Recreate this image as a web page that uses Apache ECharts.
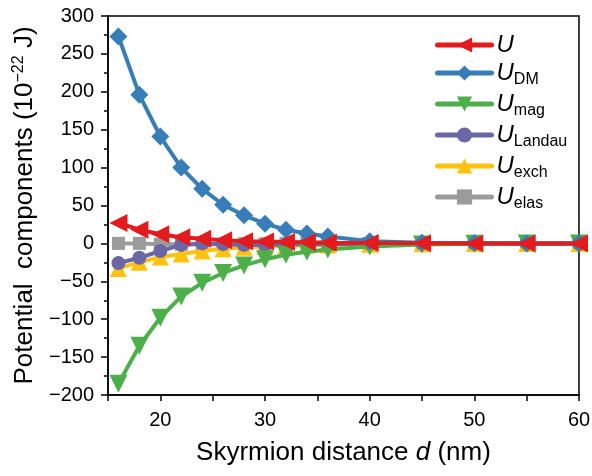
<!DOCTYPE html>
<html>
<head>
<meta charset="utf-8">
<script src="https://cdn.jsdelivr.net/npm/echarts@6/dist/echarts.min.js"></script>
<style>html,body{margin:0;padding:0;background:#fff}#c{width:592px;height:476px}</style>
</head>
<body>
<div id="c"></div>
<script>
const distances = [16, 18, 20, 22, 24, 26, 28, 30, 32, 34, 36, 40, 45, 50, 55, 60];
const U_total  = [27, 18, 12, 8, 6, 4, 3, 2.5, 2, 1.5, 1, 0.5, 0.3, 0, 0, 0];
const U_DM     = [273, 196, 141, 100, 72, 51, 37, 26, 18, 13, 9, 3, 1, 0.5, 0, 0];
const U_mag    = [-185, -135, -98, -70, -52, -39, -29, -21, -15, -11, -8, -4, -1.5, -0.5, 0, 0];
const U_Landau = [-26, -19, -10, -2, 0, -1, -2, -2, -1.5, -1, -1, -0.5, 0, 0, 0, 0];
const U_exch   = [-33, -25, -18, -14, -10, -7, -5, -4, -3, -2, -2, -1, -0.5, 0, 0, 0];
const U_elas   = [0, 0, -1, -1, -1, -1, -0.5, -0.5, 0, 0, 0, 0, 0, 0, 0, 0];
const seriesNames = ['U', 'UDM', 'Umag', 'ULandau', 'Uexch', 'Uelas'];
const seriesSubs  = ['', 'DM', 'mag', 'Landau', 'exch', 'elas'];
const yTicks = [-200, -150, -100, -50, 0, 50, 100, 150, 200, 250, 300];
const xTicks = [20, 30, 40, 50, 60];

const colors = ['#e41a1c', '#377eb8', '#4daf4a', '#6b67a6', '#ffc20e', '#9b9b9b'];
const symbols = ['triangle', 'diamond', 'triangle', 'circle', 'triangle', 'rect'];
const rotates = [90, 0, 180, 0, 0, 0];
const sizes = [18, 18, 18, 14, 17, 13];
const zs = [6, 5, 4, 3, 2, 1];
const values = [U_total, U_DM, U_mag, U_Landau, U_exch, U_elas];
const FONT = 'Liberation Sans, Arial, sans-serif';

const series = seriesNames.map((n, i) => ({
  name: n,
  type: 'line',
  data: distances.map((d, k) => [d, values[i][k]]),
  symbol: symbols[i],
  symbolSize: sizes[i],
  symbolRotate: rotates[i],
  z: zs[i],
  lineStyle: { color: colors[i], width: 4 },
  itemStyle: { color: colors[i] },
  emphasis: { disabled: true }
}));

const chart = echarts.init(document.getElementById('c'), null, { renderer: 'canvas' });
chart.setOption({
  animation: false,
  backgroundColor: '#fff',
  grid: { left: 108, right: 13, top: 16, bottom: 81, show: true, borderColor: '#000', borderWidth: 1.5, outerBoundsMode: 'none', containLabel: false },
  legend: {
    data: seriesNames,
    orient: 'vertical',
    left: 430,
    top: 28,
    itemWidth: 54,
    itemHeight: 19,
    itemGap: 1,
    lineStyle: { width: 5, cap: 'round' },
    formatter: function (name) {
      const i = seriesNames.indexOf(name);
      return seriesSubs[i] ? '{u|U}{s|' + seriesSubs[i] + '}' : '{u|U}';
    },
    textStyle: {
      fontFamily: FONT,
      rich: {
        u: { fontSize: 24, fontStyle: 'italic', color: '#000', fontFamily: FONT, lineHeight: 26 },
        s: { fontSize: 16, color: '#000', fontFamily: FONT, padding: [14, 0, 0, 0], lineHeight: 26 }
      }
    }
  },
  xAxis: {
    type: 'value',
    min: 15, max: 60, interval: 5,
    name: '{a|Skyrmion distance }{i|d}{a| (nm)}',
    nameLocation: 'middle',
    nameGap: 45,
    nameTextStyle: {
      rich: {
        a: { fontSize: 26, fontFamily: FONT, color: '#000' },
        i: { fontSize: 26, fontFamily: FONT, color: '#000', fontStyle: 'italic' }
      }
    },
    axisLine: { onZero: false, lineStyle: { color: '#000', width: 1.5 } },
    axisTick: { show: true, length: 6, lineStyle: { color: '#000', width: 1.5 } },
    splitLine: { show: false },
    axisLabel: {
      fontSize: 20, fontFamily: FONT, color: '#000', margin: 15,
      formatter: v => (xTicks.indexOf(v) >= 0 ? String(v) : '')
    }
  },
  yAxis: {
    type: 'value',
    min: -200, max: 300, interval: 50,
    name: '{a|Potential  components (10}{s|−22}{a| J)}',
    nameLocation: 'middle',
    nameGap: 59,
    nameTextStyle: {
      rich: {
        a: { fontSize: 26, fontFamily: FONT, color: '#000' },
        s: { fontSize: 16, fontFamily: FONT, color: '#000', padding: [0, 0, 12, 0] }
      }
    },
    axisLine: { onZero: false, lineStyle: { color: '#000', width: 1.5 } },
    axisTick: { show: true, length: 7, lineStyle: { color: '#000', width: 1.5 } },
    minorTick: { show: true, splitNumber: 2, length: 4, lineStyle: { color: '#000', width: 1.5 } },
    splitLine: { show: false },
    minorSplitLine: { show: false },
    axisLabel: {
      fontSize: 20, fontFamily: FONT, color: '#000', margin: 14,
      formatter: v => (yTicks.indexOf(v) >= 0 ? (v < 0 ? '−' + Math.abs(v) : String(v)) : '')
    }
  },
  series: series
});
</script>
</body>
</html>
